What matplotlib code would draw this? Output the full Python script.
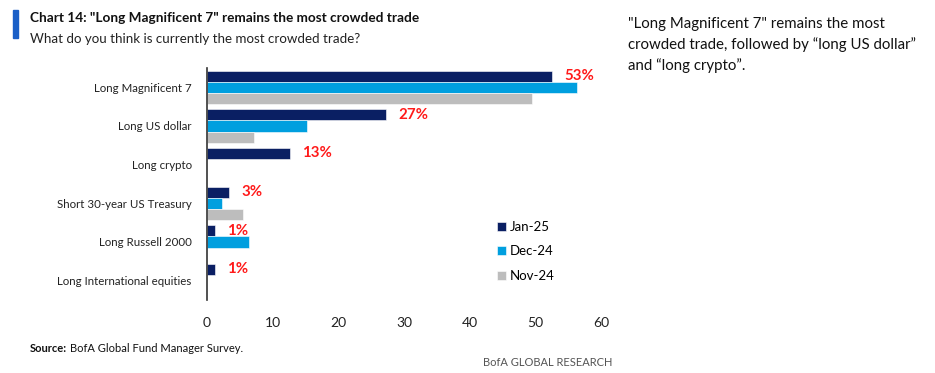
import matplotlib
matplotlib.use("Agg")
import matplotlib.pyplot as plt
import numpy as np
from matplotlib.patches import Rectangle

categories = ["Long Magnificent 7", "Long US dollar", "Long crypto",
              "Short 30-year US Treasury", "Long Russell 2000", "Long International equities"]
jan25 = [52.5, 27.3, 12.6, 3.3, 1.2, 1.2]
dec24 = [56.3, 15.2, 0, 2.3, 6.4, 0]
nov24 = [49.5, 7.2, 0, 5.5, 0, 0]
labels = ["53%", "27%", "13%", "3%", "1%", "1%"]
series_names = ["Jan-25", "Dec-24", "Nov-24"]
colors = ["#0a1f63", "#009fdf", "#bdbdbd"]
xticks = [0, 10, 20, 30, 40, 50, 60]

plt.rcParams['font.family'] = ['Lato', 'DejaVu Sans']

W, H = 935, 373
fig = plt.figure(figsize=(W / 100, H / 100), dpi=100)
ax = fig.add_axes([207 / W, 1 - 300 / H, (601 - 207) / W, (300 - 68) / H])

n = len(categories)
y = np.arange(n)
bh = 0.29
for i, (vals, c) in enumerate(zip([jan25, dec24, nov24], colors)):
    ax.barh(y + (i - 1) * bh, vals, height=bh, color=c, label=series_names[i],
            edgecolor='white', linewidth=0.4)
for yi, v, lab in zip(y, jan25, labels):
    ax.text(v + 1.9, yi - bh, lab, color="#ff1a1a", fontsize=10.8, va='center', ha='left',
            fontweight='bold')

ax.set_ylim(n - 0.5, -0.5)
ax.set_xlim(0, 60)
ax.set_yticks(y)
ax.set_yticklabels(categories, fontsize=8.3, color='#222222')
ax.set_xticks(xticks)
ax.set_xticklabels([str(t) for t in xticks], fontsize=10, color='#222222')
for s in ['top', 'right', 'bottom']:
    ax.spines[s].set_visible(False)
ax.spines['left'].set_color('#333333')
ax.spines['left'].set_linewidth(1.2)
ax.tick_params(axis='both', length=0)
ax.tick_params(axis='y', pad=11)
ax.tick_params(axis='x', pad=12)

leg = ax.legend(loc='center left', bbox_to_anchor=(0.705, 0.21), frameon=False,
                fontsize=9.5, handlelength=0.7, handleheight=0.7, handletextpad=0.3,
                labelspacing=0.95)

# Title block
fig.patches.append(Rectangle((13 / W, 1 - 38 / H), 5 / W, 28 / H, transform=fig.transFigure,
                             color='#1a5fc7', zorder=5))
fig.text(30 / W, 1 - 18 / H, 'Chart 14: "Long Magnificent 7" remains the most crowded trade',
         fontsize=9.8, fontweight='bold', va='center', ha='left', color='#111111')
fig.text(30 / W, 1 - 39 / H, 'What do you think is currently the most crowded trade?',
         fontsize=9.6, va='center', ha='left', color='#222222')

fig.text(30 / W, 1 - 348 / H, 'Source:', fontsize=8, fontweight='bold',
         va='center', ha='left', color='#111111')
fig.text(70 / W, 1 - 348 / H, 'BofA Global Fund Manager Survey.',
         fontsize=8, va='center', ha='left', color='#111111')
fig.text(612 / W, 1 - 363 / H, 'BofA GLOBAL RESEARCH', fontsize=8, va='center', ha='right',
         color='#555555')

fig.text(628 / W, 1 - 17 / H,
         '"Long Magnificent 7" remains the most\ncrowded trade, followed by \u201clong US dollar\u201d\nand \u201clong crypto\u201d.',
         fontsize=10.8, va='top', ha='left', color='#111111', linespacing=1.5)

fig.savefig('out.png', dpi=100)
